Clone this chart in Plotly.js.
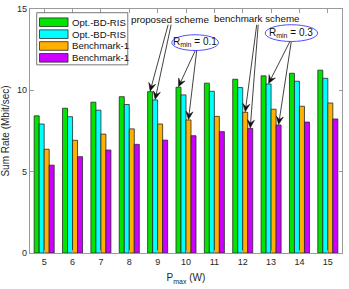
<!DOCTYPE html>
<html>
<head>
<meta charset="utf-8">
<script src="https://cdn.plot.ly/plotly-3.0.1.min.js"></script>
<style>html,body{margin:0;padding:0;background:#fff;}#chart{width:349px;height:289px;}</style>
</head>
<body>
<div id="chart"></div>
<script>
// ---- data ----
const pmax = [5, 6, 7, 8, 9, 10, 11, 12, 13, 14, 15];
const seriesNames = ["Opt.-BD-RIS", "Opt.-BD-RIS", "Benchmark-1", "Benchmark-1"];
const optBdRis01 = [8.43, 8.90, 9.27, 9.61, 9.92, 10.19, 10.44, 10.68, 10.89, 11.05, 11.24];
const optBdRis03 = [7.93, 8.38, 8.78, 9.13, 9.41, 9.72, 9.94, 10.17, 10.39, 10.56, 10.74];
const bench01 = [6.38, 6.93, 7.31, 7.63, 7.93, 8.18, 8.40, 8.65, 8.84, 9.02, 9.22];
const bench03 = [5.40, 5.92, 6.33, 6.68, 6.94, 7.21, 7.46, 7.66, 7.87, 8.05, 8.24];
const yTicks = [0, 5, 10, 15];

// ---- styling ----
const colors = ["#00e400", "#00ffff", "#ffb000", "#cc00ff"];
const allSeries = [optBdRis01, optBdRis03, bench01, bench03];
const FONT = "Liberation Sans, Arial, sans-serif";
const W = 349, H = 289;
const L = 30, R = 341.7, T = 9.3, B = 252.7;
const XR = [4.5, 15.5], YR = [0, 15];
const px2x = px => XR[0] + (px - L) / (R - L) * (XR[1] - XR[0]);
const py2y = py => YR[0] + (B - py) / (B - T) * (YR[1] - YR[0]);
const x2px = x => L + (x - XR[0]) / (XR[1] - XR[0]) * (R - L);
const y2py = y => B - (y - YR[0]) / (YR[1] - YR[0]) * (B - T);
const px2p = px => (px - L) / (R - L);
const py2p = py => (B - py) / (B - T);

const bargap = 0.294;
const barW = (1 - bargap) / 4;
const offs = [-1.5 * barW, -0.5 * barW, 0.5 * barW, 1.5 * barW];

const traces = allSeries.map((s, i) => ({
  type: "bar", x: pmax, y: s, name: seriesNames[i],
  marker: {color: colors[i], line: {color: "#2a2a2a", width: 0.8}},
  showlegend: false, hoverinfo: "skip"
}));

const shapes = [];
const annotations = [];

// manual legend (wide swatches like the original)
shapes.push({type: "rect", xref: "paper", yref: "paper",
  x0: px2p(36.7), x1: px2p(127.7), y0: py2p(65), y1: py2p(13),
  line: {color: "#555", width: 0.8}, fillcolor: "#fff"});
const rowC = [22.5, 34.4, 46.2, 58];
seriesNames.forEach((n, i) => {
  shapes.push({type: "rect", xref: "paper", yref: "paper",
    x0: px2p(39.5), x1: px2p(68), y0: py2p(rowC[i] + 4.3), y1: py2p(rowC[i] - 4.3),
    line: {color: "#2a2a2a", width: 0.8}, fillcolor: colors[i]});
  annotations.push({xref: "paper", yref: "paper", x: px2p(69.5), y: py2p(rowC[i]),
    xanchor: "left", yanchor: "middle", showarrow: false, text: n,
    font: {family: FONT, size: 9.6, color: "#111"}});
});

// text labels
annotations.push({xref: "paper", yref: "paper", x: px2p(170), y: py2p(19.3),
  xanchor: "center", yanchor: "middle", showarrow: false, text: "proposed scheme",
  font: {family: FONT, size: 9.8, color: "#111"}});
annotations.push({xref: "paper", yref: "paper", x: px2p(257), y: py2p(18.5),
  xanchor: "center", yanchor: "middle", showarrow: false, text: "benchmark scheme",
  font: {family: FONT, size: 9.8, color: "#111"}});

// ellipses
const ell = [[171.7, 218.3, 35, 50.7, "0.1", 195, 43], [265, 317.3, 25, 41.7, "0.3", 291, 33.4]];
ell.forEach(e => {
  shapes.push({type: "circle", xref: "paper", yref: "paper",
    x0: px2p(e[0]), x1: px2p(e[1]), y0: py2p(e[3]), y1: py2p(e[2]),
    line: {color: "#4d4dff", width: 1}});
  annotations.push({xref: "paper", yref: "paper", x: px2p(e[5]), y: py2p(e[6] - 0.5),
    xanchor: "center", yanchor: "middle", showarrow: false,
    text: "R<sub>min</sub> = " + e[4],
    font: {family: FONT, size: 10, color: "#111"}});
});

// arrows drawn as shapes: [seriesIndex, categoryIndex, tailPx, tailPy]
const arrows = [
  [0, 4, 168, 25], [1, 4, 171, 25],
  [0, 5, 195, 51], [2, 5, 196.5, 51],
  [2, 7, 256.5, 25], [3, 7, 258, 25],
  [1, 8, 289.5, 42], [3, 8, 291, 42]
];
const HEAD_L = 8, HEAD_W = 3.6, NOTCH = 5;
arrows.forEach(a => {
  const [si, ci, tx, ty] = a;
  const tipX = x2px(pmax[ci] + offs[si]);
  const tipY = y2py(allSeries[si][ci]) - 0.5;
  const dx = tipX - tx, dy = tipY - ty;
  const len = Math.hypot(dx, dy);
  const ux = dx / len, uy = dy / len;
  const nx = -uy, ny = ux;
  const bx = tipX - ux * HEAD_L, by = tipY - uy * HEAD_L;
  const notchX = tipX - ux * NOTCH, notchY = tipY - uy * NOTCH;
  shapes.push({type: "line", xref: "x", yref: "y",
    x0: px2x(tx), y0: py2y(ty), x1: px2x(notchX), y1: py2y(notchY),
    line: {color: "#111", width: 0.8}});
  const pts = [[tipX, tipY], [bx + nx * HEAD_W, by + ny * HEAD_W], [notchX, notchY], [bx - nx * HEAD_W, by - ny * HEAD_W]];
  const path = pts.map((p, k) => (k === 0 ? "M" : "L") + px2x(p[0]).toFixed(5) + "," + py2y(p[1]).toFixed(5)).join(" ") + " Z";
  shapes.push({type: "path", xref: "x", yref: "y", path: path,
    fillcolor: "#111", line: {color: "#111", width: 0.5}});
});

const axCommon = {
  showline: true, linecolor: "#9a9a9a", linewidth: 1.2, mirror: "ticks",
  ticks: "inside", ticklen: 3.5, tickcolor: "#9a9a9a", tickwidth: 1,
  showgrid: false, zeroline: false,
  tickfont: {family: FONT, size: 9, color: "#262626"}
};

const layout = {
  width: W, height: H,
  margin: {l: L, r: W - R, t: T, b: H - B, pad: 0},
  paper_bgcolor: "#fff", plot_bgcolor: "#fff",
  barmode: "group", bargap: bargap, bargroupgap: 0,
  showlegend: false,
  xaxis: Object.assign({}, axCommon, {
    range: XR, tickmode: "array", tickvals: pmax, ticktext: pmax.map(String),
    title: {text: "P<sub>max</sub> (W)", font: {family: FONT, size: 10, color: "#262626"}, standoff: 8}
  }),
  yaxis: Object.assign({}, axCommon, {
    range: YR, tickmode: "array", tickvals: yTicks, ticktext: yTicks.map(String),
    title: {text: "Sum Rate (Mbit/sec)", font: {family: FONT, size: 10, color: "#262626"}, standoff: 5}
  }),
  shapes: shapes,
  annotations: annotations
};

Plotly.newPlot("chart", traces, layout, {staticPlot: true, displayModeBar: false});
</script>
</body>
</html>
